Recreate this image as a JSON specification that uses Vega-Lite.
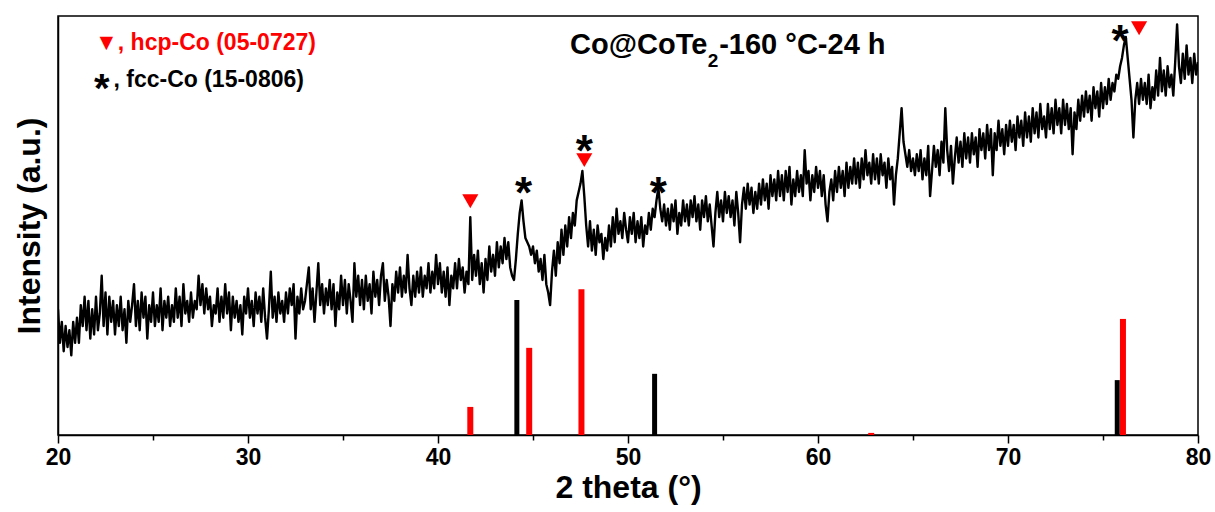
{
  "$schema": "https://vega.github.io/schema/vega-lite/v6.json",
  "width": 1140,
  "height": 419,
  "autosize": "none",
  "padding": {"left": 58, "top": 16, "right": 17, "bottom": 77},
  "background": "white",
  "config": {
    "font": "Liberation Sans",
    "view": {"stroke": "black", "strokeWidth": 1.5},
    "axis": {"domainColor": "black", "domainWidth": 1.5, "tickColor": "black", "tickWidth": 1.5, "grid": false, "labelFont": "Liberation Sans", "titleFont": "Liberation Sans", "labelColor": "black", "titleColor": "black"}
  },
  "datasets": {
    "curve": [
      {"t":20.0,"I":30},{"t":20.1,"I":22},{"t":20.2,"I":27},{"t":20.3,"I":20},{"t":20.4,"I":26},{"t":20.5,"I":21},{"t":20.6,"I":25},{"t":20.7,"I":19},{"t":20.8,"I":27},{"t":20.9,"I":22},
      {"t":21.0,"I":28},{"t":21.1,"I":22},{"t":21.2,"I":31},{"t":21.3,"I":26},{"t":21.4,"I":33},{"t":21.5,"I":25},{"t":21.6,"I":32},{"t":21.7,"I":23},{"t":21.8,"I":30},{"t":21.9,"I":24},
      {"t":22.0,"I":33},{"t":22.1,"I":25},{"t":22.2,"I":29},{"t":22.3,"I":38},{"t":22.4,"I":26},{"t":22.5,"I":34},{"t":22.6,"I":24},{"t":22.7,"I":33},{"t":22.8,"I":27},{"t":22.9,"I":32},
      {"t":23.0,"I":24},{"t":23.1,"I":31},{"t":23.2,"I":26},{"t":23.3,"I":33},{"t":23.4,"I":25},{"t":23.5,"I":30},{"t":23.6,"I":22},{"t":23.7,"I":32},{"t":23.8,"I":27},{"t":23.9,"I":31},
      {"t":24.0,"I":36},{"t":24.1,"I":26},{"t":24.2,"I":32},{"t":24.3,"I":25},{"t":24.4,"I":34},{"t":24.5,"I":28},{"t":24.6,"I":33},{"t":24.7,"I":23},{"t":24.8,"I":31},{"t":24.9,"I":27},
      {"t":25.0,"I":34},{"t":25.1,"I":26},{"t":25.2,"I":31},{"t":25.3,"I":27},{"t":25.4,"I":35},{"t":25.5,"I":25},{"t":25.6,"I":32},{"t":25.7,"I":28},{"t":25.8,"I":33},{"t":25.9,"I":26},
      {"t":26.0,"I":31},{"t":26.1,"I":27},{"t":26.2,"I":35},{"t":26.3,"I":28},{"t":26.4,"I":33},{"t":26.5,"I":26},{"t":26.6,"I":36},{"t":26.7,"I":29},{"t":26.8,"I":32},{"t":26.9,"I":27},
      {"t":27.0,"I":34},{"t":27.1,"I":28},{"t":27.2,"I":32},{"t":27.3,"I":30},{"t":27.4,"I":38},{"t":27.5,"I":31},{"t":27.6,"I":36},{"t":27.7,"I":29},{"t":27.8,"I":35},{"t":27.9,"I":30},
      {"t":28.0,"I":33},{"t":28.1,"I":26},{"t":28.2,"I":31},{"t":28.3,"I":29},{"t":28.4,"I":35},{"t":28.5,"I":27},{"t":28.6,"I":33},{"t":28.7,"I":28},{"t":28.8,"I":36},{"t":28.9,"I":29},
      {"t":29.0,"I":34},{"t":29.1,"I":25},{"t":29.2,"I":33},{"t":29.3,"I":28},{"t":29.4,"I":32},{"t":29.5,"I":27},{"t":29.6,"I":31},{"t":29.7,"I":24},{"t":29.8,"I":33},{"t":29.9,"I":29},
      {"t":30.0,"I":35},{"t":30.1,"I":28},{"t":30.2,"I":32},{"t":30.3,"I":26},{"t":30.4,"I":34},{"t":30.5,"I":29},{"t":30.6,"I":33},{"t":30.7,"I":27},{"t":30.8,"I":35},{"t":30.9,"I":28},
      {"t":31.0,"I":23},{"t":31.1,"I":30},{"t":31.2,"I":39},{"t":31.3,"I":28},{"t":31.4,"I":33},{"t":31.5,"I":27},{"t":31.6,"I":34},{"t":31.7,"I":29},{"t":31.8,"I":32},{"t":31.9,"I":27},
      {"t":32.0,"I":34},{"t":32.1,"I":29},{"t":32.2,"I":35},{"t":32.3,"I":31},{"t":32.4,"I":36},{"t":32.5,"I":23},{"t":32.6,"I":33},{"t":32.7,"I":29},{"t":32.8,"I":35},{"t":32.9,"I":30},
      {"t":33.0,"I":32},{"t":33.1,"I":36},{"t":33.2,"I":40},{"t":33.3,"I":30},{"t":33.4,"I":35},{"t":33.5,"I":27},{"t":33.6,"I":34},{"t":33.7,"I":41},{"t":33.8,"I":31},{"t":33.9,"I":36},
      {"t":34.0,"I":29},{"t":34.1,"I":35},{"t":34.2,"I":31},{"t":34.3,"I":37},{"t":34.4,"I":30},{"t":34.5,"I":36},{"t":34.6,"I":26},{"t":34.7,"I":34},{"t":34.8,"I":30},{"t":34.9,"I":38},
      {"t":35.0,"I":31},{"t":35.1,"I":37},{"t":35.2,"I":29},{"t":35.3,"I":36},{"t":35.4,"I":32},{"t":35.5,"I":27},{"t":35.6,"I":41},{"t":35.7,"I":33},{"t":35.8,"I":38},{"t":35.9,"I":31},
      {"t":36.0,"I":37},{"t":36.1,"I":30},{"t":36.2,"I":38},{"t":36.3,"I":32},{"t":36.4,"I":36},{"t":36.5,"I":29},{"t":36.6,"I":39},{"t":36.7,"I":33},{"t":36.8,"I":37},{"t":36.9,"I":31},
      {"t":37.0,"I":38},{"t":37.1,"I":41},{"t":37.2,"I":32},{"t":37.3,"I":37},{"t":37.4,"I":33},{"t":37.5,"I":26},{"t":37.6,"I":36},{"t":37.7,"I":32},{"t":37.8,"I":39},{"t":37.9,"I":34},
      {"t":38.0,"I":40},{"t":38.1,"I":33},{"t":38.2,"I":38},{"t":38.3,"I":34},{"t":38.4,"I":43},{"t":38.5,"I":35},{"t":38.6,"I":31},{"t":38.7,"I":38},{"t":38.8,"I":33},{"t":38.9,"I":39},
      {"t":39.0,"I":34},{"t":39.1,"I":40},{"t":39.2,"I":33},{"t":39.3,"I":38},{"t":39.4,"I":35},{"t":39.5,"I":41},{"t":39.6,"I":34},{"t":39.7,"I":39},{"t":39.8,"I":35},{"t":39.9,"I":43},
      {"t":40.0,"I":36},{"t":40.1,"I":41},{"t":40.2,"I":34},{"t":40.3,"I":39},{"t":40.4,"I":33},{"t":40.5,"I":40},{"t":40.6,"I":31},{"t":40.7,"I":38},{"t":40.8,"I":35},{"t":40.9,"I":41},
      {"t":41.0,"I":35},{"t":41.1,"I":42},{"t":41.2,"I":37},{"t":41.3,"I":40},{"t":41.4,"I":34},{"t":41.5,"I":39},{"t":41.6,"I":36},{"t":41.7,"I":52},{"t":41.8,"I":37},{"t":41.9,"I":43},
      {"t":42.0,"I":38},{"t":42.1,"I":44},{"t":42.2,"I":36},{"t":42.3,"I":41},{"t":42.4,"I":34},{"t":42.5,"I":42},{"t":42.6,"I":37},{"t":42.7,"I":45},{"t":42.8,"I":39},{"t":42.9,"I":43},
      {"t":43.0,"I":38},{"t":43.1,"I":46},{"t":43.2,"I":40},{"t":43.3,"I":45},{"t":43.4,"I":41},{"t":43.5,"I":47},{"t":43.6,"I":42},{"t":43.7,"I":46},{"t":43.8,"I":40},{"t":43.9,"I":38},
      {"t":44.0,"I":37},{"t":44.1,"I":42},{"t":44.2,"I":48},{"t":44.3,"I":53},{"t":44.4,"I":56},{"t":44.5,"I":51},{"t":44.6,"I":47},{"t":44.7,"I":46},{"t":44.8,"I":45},{"t":44.9,"I":43},
      {"t":45.0,"I":45},{"t":45.1,"I":41},{"t":45.2,"I":44},{"t":45.3,"I":39},{"t":45.4,"I":42},{"t":45.5,"I":37},{"t":45.6,"I":43},{"t":45.7,"I":36},{"t":45.8,"I":34},{"t":45.9,"I":31},
      {"t":46.0,"I":39},{"t":46.1,"I":44},{"t":46.2,"I":38},{"t":46.3,"I":46},{"t":46.4,"I":41},{"t":46.5,"I":49},{"t":46.6,"I":43},{"t":46.7,"I":50},{"t":46.8,"I":45},{"t":46.9,"I":52},
      {"t":47.0,"I":47},{"t":47.1,"I":53},{"t":47.2,"I":50},{"t":47.3,"I":56},{"t":47.4,"I":58},{"t":47.5,"I":60},{"t":47.6,"I":63},{"t":47.7,"I":57},{"t":47.8,"I":50},{"t":47.9,"I":45},
      {"t":48.0,"I":51},{"t":48.1,"I":44},{"t":48.2,"I":49},{"t":48.3,"I":43},{"t":48.4,"I":50},{"t":48.5,"I":46},{"t":48.6,"I":48},{"t":48.7,"I":42},{"t":48.8,"I":47},{"t":48.9,"I":44},
      {"t":49.0,"I":50},{"t":49.1,"I":45},{"t":49.2,"I":52},{"t":49.3,"I":46},{"t":49.4,"I":54},{"t":49.5,"I":48},{"t":49.6,"I":51},{"t":49.7,"I":47},{"t":49.8,"I":53},{"t":49.9,"I":49},
      {"t":50.0,"I":46},{"t":50.1,"I":52},{"t":50.2,"I":48},{"t":50.3,"I":53},{"t":50.4,"I":46},{"t":50.5,"I":51},{"t":50.6,"I":47},{"t":50.7,"I":52},{"t":50.8,"I":45},{"t":50.9,"I":50},
      {"t":51.0,"I":48},{"t":51.1,"I":53},{"t":51.2,"I":49},{"t":51.3,"I":54},{"t":51.4,"I":52},{"t":51.5,"I":56},{"t":51.6,"I":59},{"t":51.7,"I":54},{"t":51.8,"I":51},{"t":51.9,"I":55},
      {"t":52.0,"I":50},{"t":52.1,"I":54},{"t":52.2,"I":49},{"t":52.3,"I":55},{"t":52.4,"I":51},{"t":52.5,"I":56},{"t":52.6,"I":48},{"t":52.7,"I":53},{"t":52.8,"I":50},{"t":52.9,"I":56},
      {"t":53.0,"I":51},{"t":53.1,"I":55},{"t":53.2,"I":50},{"t":53.3,"I":56},{"t":53.4,"I":52},{"t":53.5,"I":57},{"t":53.6,"I":51},{"t":53.7,"I":55},{"t":53.8,"I":49},{"t":53.9,"I":56},
      {"t":54.0,"I":52},{"t":54.1,"I":57},{"t":54.2,"I":51},{"t":54.3,"I":55},{"t":54.4,"I":50},{"t":54.5,"I":45},{"t":54.6,"I":53},{"t":54.7,"I":58},{"t":54.8,"I":52},{"t":54.9,"I":56},
      {"t":55.0,"I":51},{"t":55.1,"I":58},{"t":55.2,"I":53},{"t":55.3,"I":57},{"t":55.4,"I":52},{"t":55.5,"I":56},{"t":55.6,"I":50},{"t":55.7,"I":58},{"t":55.8,"I":53},{"t":55.9,"I":46},
      {"t":56.0,"I":55},{"t":56.1,"I":59},{"t":56.2,"I":54},{"t":56.3,"I":60},{"t":56.4,"I":55},{"t":56.5,"I":59},{"t":56.6,"I":53},{"t":56.7,"I":58},{"t":56.8,"I":54},{"t":56.9,"I":60},
      {"t":57.0,"I":55},{"t":57.1,"I":61},{"t":57.2,"I":56},{"t":57.3,"I":60},{"t":57.4,"I":54},{"t":57.5,"I":62},{"t":57.6,"I":57},{"t":57.7,"I":61},{"t":57.8,"I":56},{"t":57.9,"I":63},
      {"t":58.0,"I":57},{"t":58.1,"I":62},{"t":58.2,"I":56},{"t":58.3,"I":63},{"t":58.4,"I":58},{"t":58.5,"I":64},{"t":58.6,"I":55},{"t":58.7,"I":61},{"t":58.8,"I":57},{"t":58.9,"I":63},
      {"t":59.0,"I":58},{"t":59.1,"I":62},{"t":59.2,"I":57},{"t":59.3,"I":68},{"t":59.4,"I":60},{"t":59.5,"I":63},{"t":59.6,"I":56},{"t":59.7,"I":62},{"t":59.8,"I":58},{"t":59.9,"I":64},
      {"t":60.0,"I":59},{"t":60.1,"I":63},{"t":60.2,"I":57},{"t":60.3,"I":62},{"t":60.4,"I":55},{"t":60.5,"I":51},{"t":60.6,"I":58},{"t":60.7,"I":61},{"t":60.8,"I":56},{"t":60.9,"I":63},
      {"t":61.0,"I":58},{"t":61.1,"I":64},{"t":61.2,"I":59},{"t":61.3,"I":63},{"t":61.4,"I":57},{"t":61.5,"I":65},{"t":61.6,"I":59},{"t":61.7,"I":64},{"t":61.8,"I":60},{"t":61.9,"I":66},
      {"t":62.0,"I":60},{"t":62.1,"I":65},{"t":62.2,"I":59},{"t":62.3,"I":66},{"t":62.4,"I":61},{"t":62.5,"I":68},{"t":62.6,"I":62},{"t":62.7,"I":65},{"t":62.8,"I":60},{"t":62.9,"I":67},
      {"t":63.0,"I":61},{"t":63.1,"I":66},{"t":63.2,"I":60},{"t":63.3,"I":67},{"t":63.4,"I":62},{"t":63.5,"I":65},{"t":63.6,"I":59},{"t":63.7,"I":66},{"t":63.8,"I":61},{"t":63.9,"I":64},
      {"t":64.0,"I":55},{"t":64.1,"I":62},{"t":64.2,"I":66},{"t":64.3,"I":72},{"t":64.4,"I":78},{"t":64.5,"I":70},{"t":64.6,"I":67},{"t":64.7,"I":64},{"t":64.8,"I":68},{"t":64.9,"I":63},
      {"t":65.0,"I":66},{"t":65.1,"I":62},{"t":65.2,"I":67},{"t":65.3,"I":63},{"t":65.4,"I":68},{"t":65.5,"I":61},{"t":65.6,"I":66},{"t":65.7,"I":62},{"t":65.8,"I":69},{"t":65.9,"I":57},
      {"t":66.0,"I":63},{"t":66.1,"I":69},{"t":66.2,"I":64},{"t":66.3,"I":68},{"t":66.4,"I":62},{"t":66.5,"I":70},{"t":66.6,"I":65},{"t":66.7,"I":78},{"t":66.8,"I":68},{"t":66.9,"I":63},
      {"t":67.0,"I":69},{"t":67.1,"I":60},{"t":67.2,"I":66},{"t":67.3,"I":71},{"t":67.4,"I":65},{"t":67.5,"I":70},{"t":67.6,"I":64},{"t":67.7,"I":72},{"t":67.8,"I":66},{"t":67.9,"I":71},
      {"t":68.0,"I":65},{"t":68.1,"I":72},{"t":68.2,"I":67},{"t":68.3,"I":71},{"t":68.4,"I":64},{"t":68.5,"I":73},{"t":68.6,"I":68},{"t":68.7,"I":72},{"t":68.8,"I":66},{"t":68.9,"I":74},
      {"t":69.0,"I":68},{"t":69.1,"I":73},{"t":69.2,"I":62},{"t":69.3,"I":72},{"t":69.4,"I":68},{"t":69.5,"I":75},{"t":69.6,"I":69},{"t":69.7,"I":73},{"t":69.8,"I":67},{"t":69.9,"I":74},
      {"t":70.0,"I":69},{"t":70.1,"I":75},{"t":70.2,"I":70},{"t":70.3,"I":74},{"t":70.4,"I":68},{"t":70.5,"I":76},{"t":70.6,"I":71},{"t":70.7,"I":75},{"t":70.8,"I":69},{"t":70.9,"I":77},
      {"t":71.0,"I":71},{"t":71.1,"I":76},{"t":71.2,"I":70},{"t":71.3,"I":78},{"t":71.4,"I":72},{"t":71.5,"I":77},{"t":71.6,"I":71},{"t":71.7,"I":79},{"t":71.8,"I":73},{"t":71.9,"I":76},
      {"t":72.0,"I":71},{"t":72.1,"I":79},{"t":72.2,"I":73},{"t":72.3,"I":78},{"t":72.4,"I":72},{"t":72.5,"I":80},{"t":72.6,"I":74},{"t":72.7,"I":78},{"t":72.8,"I":72},{"t":72.9,"I":80},
      {"t":73.0,"I":74},{"t":73.1,"I":79},{"t":73.2,"I":73},{"t":73.3,"I":78},{"t":73.4,"I":67},{"t":73.5,"I":77},{"t":73.6,"I":73},{"t":73.7,"I":80},{"t":73.8,"I":75},{"t":73.9,"I":81},
      {"t":74.0,"I":76},{"t":74.1,"I":82},{"t":74.2,"I":77},{"t":74.3,"I":81},{"t":74.4,"I":75},{"t":74.5,"I":83},{"t":74.6,"I":78},{"t":74.7,"I":82},{"t":74.8,"I":76},{"t":74.9,"I":84},
      {"t":75.0,"I":78},{"t":75.1,"I":83},{"t":75.2,"I":79},{"t":75.3,"I":85},{"t":75.4,"I":80},{"t":75.5,"I":84},{"t":75.6,"I":82},{"t":75.7,"I":86},{"t":75.8,"I":85},{"t":75.9,"I":88},
      {"t":76.0,"I":90},{"t":76.1,"I":93},{"t":76.2,"I":95},{"t":76.3,"I":90},{"t":76.4,"I":85},{"t":76.5,"I":80},{"t":76.6,"I":71},{"t":76.7,"I":80},{"t":76.8,"I":84},{"t":76.9,"I":79},
      {"t":77.0,"I":85},{"t":77.1,"I":80},{"t":77.2,"I":84},{"t":77.3,"I":79},{"t":77.4,"I":86},{"t":77.5,"I":78},{"t":77.6,"I":83},{"t":77.7,"I":80},{"t":77.8,"I":87},{"t":77.9,"I":81},
      {"t":78.0,"I":90},{"t":78.1,"I":82},{"t":78.2,"I":87},{"t":78.3,"I":81},{"t":78.4,"I":88},{"t":78.5,"I":83},{"t":78.6,"I":86},{"t":78.7,"I":81},{"t":78.8,"I":89},{"t":78.9,"I":98},
      {"t":79.0,"I":88},{"t":79.1,"I":84},{"t":79.2,"I":91},{"t":79.3,"I":85},{"t":79.4,"I":93},{"t":79.5,"I":86},{"t":79.6,"I":90},{"t":79.7,"I":84},{"t":79.8,"I":91},{"t":79.9,"I":86},
      {"t":80.0,"I":89}
    ],
    "sticks": [
      {"t":44.15,"h":32.2,"phase":"fcc"},
      {"t":51.4,"h":14.6,"phase":"fcc"},
      {"t":75.75,"h":13.1,"phase":"fcc"},
      {"t":41.7,"h":6.7,"phase":"hcp"},
      {"t":44.8,"h":20.8,"phase":"hcp"},
      {"t":47.55,"h":34.8,"phase":"hcp"},
      {"t":62.8,"h":0.5,"phase":"hcp"},
      {"t":76.05,"h":27.7,"phase":"hcp"}
    ],
    "tri": [
      {"t":41.7,"y":55.8},
      {"t":47.7,"y":65.6},
      {"t":76.9,"y":97.1}
    ],
    "stars": [
      {"t":44.5,"y":54.2},
      {"t":47.7,"y":64.2},
      {"t":51.6,"y":54.2},
      {"t":75.9,"y":90.5}
    ],
    "notes": [
      {"t":21.95,"y":93.6,"label":"▼, hcp-Co (05-0727)","c":"red"},
      {"t":22.92,"y":84.7,"label":", fcc-Co (15-0806)","c":"black"}
    ],
    "legstar": [
      {"t":22.3,"y":79.5}
    ],
    "titleA": [
      {"t":46.95,"y":93.1,"label":"Co@CoTe"},
      {"t":54.8,"y":93.1,"label":"-160 °C-24 h"}
    ],
    "titleB": [
      {"t":54.2,"y":89.3,"label":"2"}
    ]
  },
  "layer": [
    {
      "data": {"name": "curve"},
      "mark": {"type": "line", "color": "black", "strokeWidth": 2.4, "clip": true, "strokeJoin": "round"},
      "encoding": {
        "x": {"field": "t", "type": "quantitative", "scale": {"domain": [20, 80], "nice": false},
          "axis": {"values": [20,25,30,35,40,45,50,55,60,65,70,75,80],
            "labelExpr": "datum.value % 10 === 0 ? datum.label : ''",
            "labelFlush": false,
            "tickSize": {"condition": {"test": "datum.value % 10 === 0", "value": 8}, "value": 5},
            "labelFontSize": 23, "labelFontWeight": "bold", "labelPadding": 3,
            "title": "2 theta (°)", "titleFontSize": 32, "titleFontWeight": "bold", "titlePadding": 3}},
        "y": {"field": "I", "type": "quantitative", "scale": {"domain": [0, 100], "nice": false, "zero": false},
          "axis": {"ticks": false, "labels": false, "title": "Intensity (a.u.)", "titleFontSize": 32, "titleFontWeight": "bold", "titlePadding": 12}}
      }
    },
    {
      "data": {"name": "sticks"},
      "mark": {"type": "rule", "strokeCap": "butt"},
      "encoding": {
        "x": {"field": "t", "type": "quantitative"},
        "y": {"field": "h", "type": "quantitative"},
        "y2": {"datum": 0},
        "color": {"field": "phase", "type": "nominal", "scale": {"domain": ["fcc", "hcp"], "range": ["black", "#ff0000"]}, "legend": null},
        "strokeWidth": {"field": "phase", "type": "nominal", "scale": {"domain": ["fcc", "hcp"], "range": [5, 6]}, "legend": null}
      }
    },
    {
      "data": {"name": "tri"},
      "mark": {"type": "point", "shape": "triangle-down", "filled": true, "color": "#ff0000", "size": 260, "opacity": 1},
      "encoding": {
        "x": {"field": "t", "type": "quantitative"},
        "y": {"field": "y", "type": "quantitative"}
      }
    },
    {
      "data": {"name": "stars"},
      "mark": {"type": "text", "text": "*", "fontSize": 44, "fontWeight": "bold", "color": "black", "baseline": "alphabetic", "align": "center"},
      "encoding": {
        "x": {"field": "t", "type": "quantitative"},
        "y": {"field": "y", "type": "quantitative"}
      }
    },
    {
      "data": {"name": "legstar"},
      "mark": {"type": "text", "text": "*", "fontSize": 40, "fontWeight": "bold", "color": "black", "baseline": "alphabetic", "align": "center"},
      "encoding": {
        "x": {"field": "t", "type": "quantitative"},
        "y": {"field": "y", "type": "quantitative"}
      }
    },
    {
      "data": {"name": "notes"},
      "mark": {"type": "text", "fontSize": 23, "fontWeight": "bold", "baseline": "middle", "align": "left"},
      "encoding": {
        "x": {"field": "t", "type": "quantitative"},
        "y": {"field": "y", "type": "quantitative"},
        "text": {"field": "label"},
        "color": {"field": "c", "type": "nominal", "scale": null}
      }
    },
    {
      "data": {"name": "titleA"},
      "mark": {"type": "text", "fontSize": 29, "fontWeight": "bold", "baseline": "middle", "align": "left", "color": "black"},
      "encoding": {
        "x": {"field": "t", "type": "quantitative"},
        "y": {"field": "y", "type": "quantitative"},
        "text": {"field": "label"}
      }
    },
    {
      "data": {"name": "titleB"},
      "mark": {"type": "text", "fontSize": 19, "fontWeight": "bold", "baseline": "middle", "align": "left", "color": "black"},
      "encoding": {
        "x": {"field": "t", "type": "quantitative"},
        "y": {"field": "y", "type": "quantitative"},
        "text": {"field": "label"}
      }
    }
  ]
}
